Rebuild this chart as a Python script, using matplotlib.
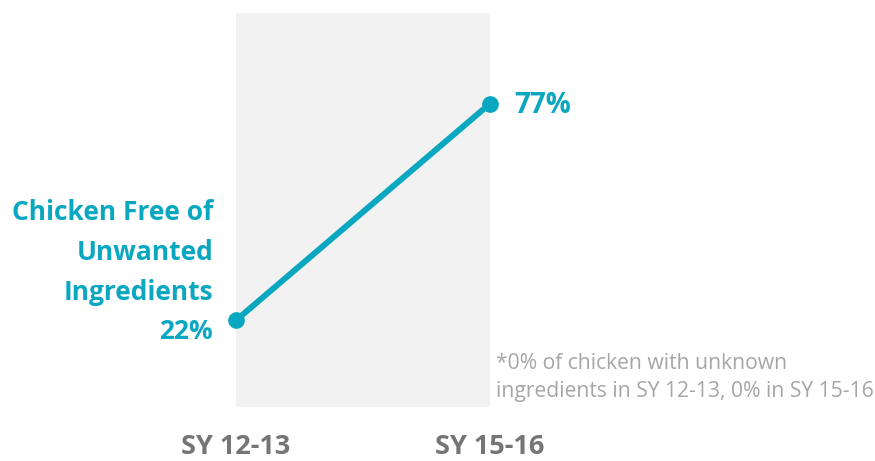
import matplotlib.pyplot as plt
from matplotlib.patches import Rectangle

years = ["SY 12-13", "SY 15-16"]
share = [22, 77]
series_name = "Chicken Free of\nUnwanted\nIngredients"
footnote = "*0% of chicken with unknown\ningredients in SY 12-13, 0% in SY 15-16"

teal = "#0aa7c0"
plt.rcParams['font.family'] = ['Open Sans', 'DejaVu Sans']

fig = plt.figure(figsize=(8.75, 4.61), dpi=100)
# axes box = shaded band between the two school years
ax = fig.add_axes([236 / 875, 1 - 407 / 461, 254 / 875, 394 / 461])
ax.set_xlim(0, 1)
ax.set_ylim(0, 100)
ax.axis('off')

ax.add_patch(Rectangle((0, 0), 1, 100, color="#f2f2f2", zorder=0))

xs = list(range(len(years)))
ax.plot(xs, share, color=teal, lw=4.3, marker='o', ms=11, solid_capstyle='round', clip_on=False, zorder=3)

# left label + start value
ax.text(-0.09, share[0] - 6.3, series_name + "\n" + f"{share[0]}%", ha='right', va='bottom',
        fontsize=19, fontweight='bold', color=teal, linespacing=1.6)
# end value
ax.text(1.095, share[1] - 0.6, f"{share[1]}%", ha='left', va='center',
        fontsize=20, fontweight='bold', color=teal)

# x labels
for x, lab in zip(xs, years):
    ax.text(x, -10.2, lab, ha='center', va='center',
            fontsize=19.5, fontweight='bold', color="#757575", clip_on=False)

ax.text(1.025, 13.7, footnote, ha='left', va='top', fontsize=15.2, color="#a6a6a6",
        linespacing=1.46, clip_on=False)

plt.savefig('out.png', dpi=100)
